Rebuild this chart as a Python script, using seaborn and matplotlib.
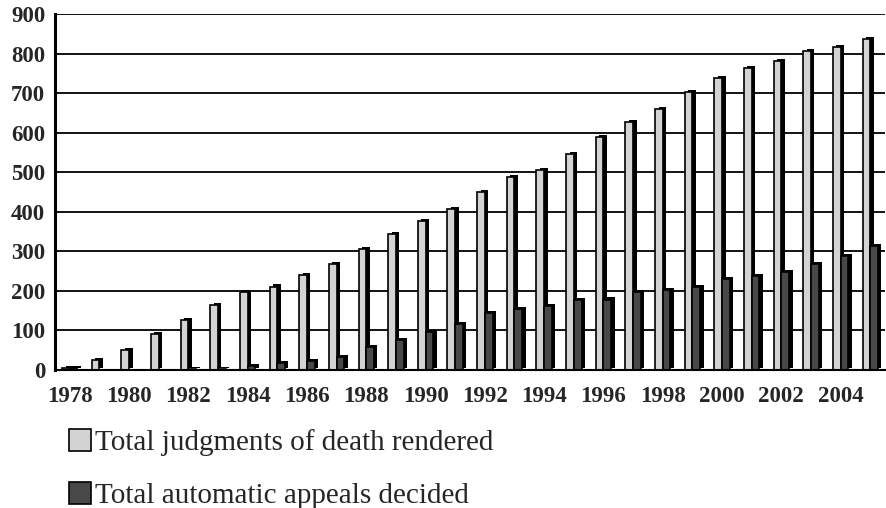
import pandas as pd
import matplotlib.pyplot as plt
import matplotlib.patheffects as pe
from matplotlib.patches import Patch
import seaborn as sns

# Data
years = list(range(1978, 2006))
judgments = [5, 25, 51, 90, 127, 165, 196, 211, 241, 267, 305, 343, 376, 407,
             451, 487, 506, 547, 588, 626, 659, 703, 738, 763, 781, 807, 816, 837]
appeals = [4, 0, 0, 0, 3, 3, 11, 17, 22, 32, 58, 76, 97, 117,
           143, 154, 162, 176, 178, 196, 203, 209, 229, 237, 248, 268, 288, 313]
series_names = ["Total judgments of death rendered", "Total automatic appeals decided"]
colors = ["#d3d3d3", "#484848"]


def main():
    df = pd.DataFrame({
        "year": years * 2,
        "value": judgments + appeals,
        "series": [series_names[0]] * len(years) + [series_names[1]] * len(years),
    })

    sns.set_style("white")
    plt.rcParams["font.family"] = ["Liberation Serif", "DejaVu Serif"]

    fig = plt.figure(figsize=(8.86, 5.08), dpi=100)
    ax = fig.add_axes([0.062, 0.2717, 0.937, 0.7007])

    sns.barplot(data=df, x="year", y="value", hue="series", hue_order=series_names,
                palette=colors, width=0.52, edgecolor="black", linewidth=1.2,
                saturation=1, ax=ax, legend=False)

    # fake the 3D depth of the original with a dark offset shadow
    for bar in ax.patches:
        if bar.get_height() > 0:
            bar.set_path_effects([pe.SimplePatchShadow(offset=(2.5, 1.5), shadow_rgbFace="black", alpha=1),
                                  pe.Normal()])

    ax.set_ylim(0, 900)
    ax.set_xlim(-0.5, len(years) - 0.5)
    ax.set_yticks(range(0, 901, 100))
    ax.yaxis.grid(True, color="black", linewidth=1.3)
    ax.set_axisbelow(True)

    ax.set_xticks(range(0, len(years), 2))
    ax.set_xticklabels([str(y) for y in years[::2]])
    ax.set_xticks([i - 0.5 for i in range(len(years) + 1)], minor=True)
    ax.tick_params(axis="x", which="major", length=0, pad=11.5, labelsize=16.5)
    ax.tick_params(axis="x", which="minor", length=5, width=1.2, direction="out", color="black")
    ax.tick_params(axis="y", length=4, width=1.2, direction="out", color="black", labelsize=16.5, pad=3)
    for lab in ax.get_xticklabels() + ax.get_yticklabels():
        lab.set_fontweight("bold")

    ax.set_xlabel("")
    ax.set_ylabel("")
    for side in ["right", "top"]:
        ax.spines[side].set_visible(False)
    ax.spines["left"].set_linewidth(2.2)
    ax.spines["bottom"].set_linewidth(1.5)
    ax.spines["left"].set_color("black")
    ax.spines["bottom"].set_color("black")

    handles = [Patch(facecolor=c, edgecolor="black", linewidth=1.2) for c in colors]
    fig.legend(handles, series_names, loc="lower left", bbox_to_anchor=(0.048, -0.054),
               frameon=False, fontsize=21, handlelength=0.75, handleheight=0.75,
               handletextpad=0.15, labelspacing=0.9)

    fig.savefig("out.png", dpi=100)


if __name__ == "__main__":
    main()
